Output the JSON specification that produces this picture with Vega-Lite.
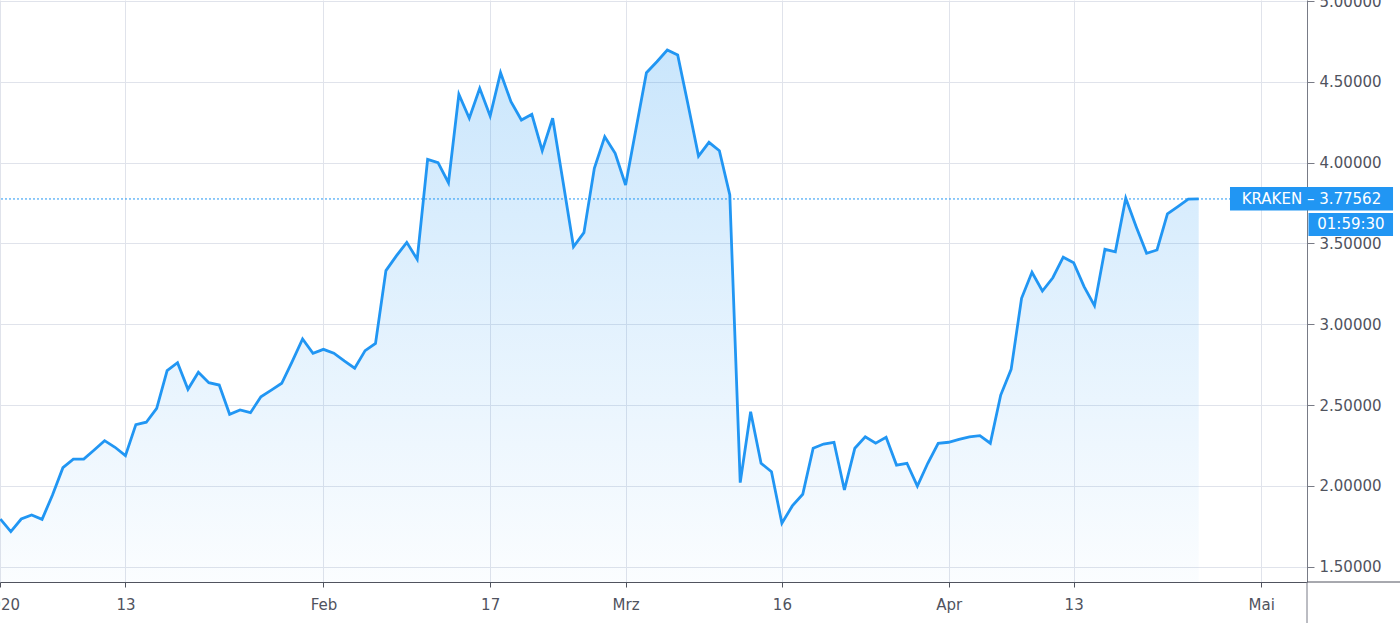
{
  "$schema": "https://vega.github.io/schema/vega-lite/v6.json",
  "width": 1307,
  "height": 582,
  "autosize": {"type": "none"},
  "padding": {"left": 0, "top": 0, "right": 93, "bottom": 41},
  "background": "#ffffff",
  "config": {
    "view": {"stroke": null},
    "font": "DejaVu Sans",
    "axis": {
      "labelFont": "DejaVu Sans",
      "labelFontSize": 15,
      "labelColor": "#50535e",
      "gridColor": "#e0e3eb",
      "gridWidth": 1,
      "domainColor": "#787b86",
      "tickColor": "#787b86",
      "title": null
    }
  },
  "datasets": {
    "price": [
      {"date": "2020-01-01", "value": 1.795}, {"date": "2020-01-02", "value": 1.717}, {"date": "2020-01-03", "value": 1.795}, {"date": "2020-01-04", "value": 1.820}, {"date": "2020-01-05", "value": 1.793}, {"date": "2020-01-06", "value": 1.944}, {"date": "2020-01-07", "value": 2.113}, {"date": "2020-01-08", "value": 2.166}, {"date": "2020-01-09", "value": 2.166}, {"date": "2020-01-10", "value": 2.222}, {"date": "2020-01-11", "value": 2.280}, {"date": "2020-01-12", "value": 2.239}, {"date": "2020-01-13", "value": 2.187}, {"date": "2020-01-14", "value": 2.379}, {"date": "2020-01-15", "value": 2.394}, {"date": "2020-01-16", "value": 2.480}, {"date": "2020-01-17", "value": 2.713}, {"date": "2020-01-18", "value": 2.762}, {"date": "2020-01-19", "value": 2.598}, {"date": "2020-01-20", "value": 2.703}, {"date": "2020-01-21", "value": 2.639}, {"date": "2020-01-22", "value": 2.624}, {"date": "2020-01-23", "value": 2.443}, {"date": "2020-01-24", "value": 2.470}, {"date": "2020-01-25", "value": 2.453}, {"date": "2020-01-26", "value": 2.552}, {"date": "2020-01-27", "value": 2.593}, {"date": "2020-01-28", "value": 2.635}, {"date": "2020-01-29", "value": 2.769}, {"date": "2020-01-30", "value": 2.909}, {"date": "2020-01-31", "value": 2.821},
      {"date": "2020-02-01", "value": 2.845}, {"date": "2020-02-02", "value": 2.821}, {"date": "2020-02-03", "value": 2.773}, {"date": "2020-02-04", "value": 2.728}, {"date": "2020-02-05", "value": 2.837}, {"date": "2020-02-06", "value": 2.882}, {"date": "2020-02-07", "value": 3.332}, {"date": "2020-02-08", "value": 3.423}, {"date": "2020-02-09", "value": 3.507}, {"date": "2020-02-10", "value": 3.402}, {"date": "2020-02-11", "value": 4.021}, {"date": "2020-02-12", "value": 4.000}, {"date": "2020-02-13", "value": 3.876}, {"date": "2020-02-14", "value": 4.423}, {"date": "2020-02-15", "value": 4.275}, {"date": "2020-02-16", "value": 4.460}, {"date": "2020-02-17", "value": 4.289}, {"date": "2020-02-18", "value": 4.557}, {"date": "2020-02-19", "value": 4.377}, {"date": "2020-02-20", "value": 4.264}, {"date": "2020-02-21", "value": 4.299}, {"date": "2020-02-22", "value": 4.074}, {"date": "2020-02-23", "value": 4.275}, {"date": "2020-02-24", "value": 3.880}, {"date": "2020-02-25", "value": 3.480}, {"date": "2020-02-26", "value": 3.567}, {"date": "2020-02-27", "value": 3.965}, {"date": "2020-02-28", "value": 4.161}, {"date": "2020-02-29", "value": 4.058},
      {"date": "2020-03-01", "value": 3.862}, {"date": "2020-03-02", "value": 4.210}, {"date": "2020-03-03", "value": 4.557}, {"date": "2020-03-04", "value": 4.625}, {"date": "2020-03-05", "value": 4.697}, {"date": "2020-03-06", "value": 4.666}, {"date": "2020-03-07", "value": 4.357}, {"date": "2020-03-08", "value": 4.041}, {"date": "2020-03-09", "value": 4.126}, {"date": "2020-03-10", "value": 4.074}, {"date": "2020-03-11", "value": 3.800}, {"date": "2020-03-12", "value": 2.020}, {"date": "2020-03-13", "value": 2.459}, {"date": "2020-03-14", "value": 2.140}, {"date": "2020-03-15", "value": 2.088}, {"date": "2020-03-16", "value": 1.769}, {"date": "2020-03-17", "value": 1.876}, {"date": "2020-03-18", "value": 1.948}, {"date": "2020-03-19", "value": 2.233}, {"date": "2020-03-20", "value": 2.259}, {"date": "2020-03-21", "value": 2.270}, {"date": "2020-03-22", "value": 1.975}, {"date": "2020-03-23", "value": 2.233}, {"date": "2020-03-24", "value": 2.304}, {"date": "2020-03-25", "value": 2.264}, {"date": "2020-03-26", "value": 2.301}, {"date": "2020-03-27", "value": 2.129}, {"date": "2020-03-28", "value": 2.140}, {"date": "2020-03-29", "value": 1.999}, {"date": "2020-03-30", "value": 2.140}, {"date": "2020-03-31", "value": 2.264},
      {"date": "2020-04-01", "value": 2.270}, {"date": "2020-04-02", "value": 2.288}, {"date": "2020-04-03", "value": 2.304}, {"date": "2020-04-04", "value": 2.311}, {"date": "2020-04-05", "value": 2.264}, {"date": "2020-04-06", "value": 2.562}, {"date": "2020-04-07", "value": 2.721}, {"date": "2020-04-08", "value": 3.161}, {"date": "2020-04-09", "value": 3.322}, {"date": "2020-04-10", "value": 3.206}, {"date": "2020-04-11", "value": 3.288}, {"date": "2020-04-12", "value": 3.415}, {"date": "2020-04-13", "value": 3.381}, {"date": "2020-04-14", "value": 3.233}, {"date": "2020-04-15", "value": 3.115}, {"date": "2020-04-16", "value": 3.464}, {"date": "2020-04-17", "value": 3.449}, {"date": "2020-04-18", "value": 3.780}, {"date": "2020-04-19", "value": 3.604}, {"date": "2020-04-20", "value": 3.439}, {"date": "2020-04-21", "value": 3.460}, {"date": "2020-04-22", "value": 3.683}, {"date": "2020-04-23", "value": 3.728}, {"date": "2020-04-24", "value": 3.774}, {"date": "2020-04-25", "value": 3.77562}
    ],
    "tags": [
      {"x": "2020-04-28T00:05:00Z", "x2": "2020-05-13T15:35:00Z", "y": 3.8496, "y2": 3.7042},
      {"x": "2020-05-05T12:50:00Z", "x2": "2020-05-13T15:35:00Z", "y": 3.6887, "y2": 3.5464}
    ],
    "tagText": [
      {"tx": "2020-05-05T19:41:00Z", "ty": 3.7769, "label": "KRAKEN – 3.77562"},
      {"tx": "2020-05-09T14:41:00Z", "ty": 3.6176, "label": "01:59:30"}
    ]
  },
  "layer": [
    {
      "data": {"name": "price"},
      "mark": {
        "type": "area",
        "color": {
          "gradient": "linear",
          "x1": 0, "y1": 1, "x2": 0, "y2": 0,
          "stops": [
            {"offset": 0, "color": "rgba(33,150,243,0.02)"},
            {"offset": 1, "color": "rgba(33,150,243,0.24)"}
          ]
        }
      },
      "encoding": {
        "x": {
          "field": "date", "type": "temporal",
          "scale": {"type": "utc", "nice": false, "domain": [
            {"year": 2019, "month": 12, "date": 31, "hours": 23, "minutes": 5, "utc": true},
            {"year": 2020, "month": 5, "date": 5, "hours": 9, "minutes": 27, "utc": true}
          ]},
          "axis": {
            "values": [
              {"year": 2020, "month": 1, "date": 1, "utc": true},
              {"year": 2020, "month": 1, "date": 13, "utc": true},
              {"year": 2020, "month": 2, "date": 1, "utc": true},
              {"year": 2020, "month": 2, "date": 17, "utc": true},
              {"year": 2020, "month": 3, "date": 1, "utc": true},
              {"year": 2020, "month": 3, "date": 16, "utc": true},
              {"year": 2020, "month": 4, "date": 1, "utc": true},
              {"year": 2020, "month": 4, "date": 13, "utc": true},
              {"year": 2020, "month": 5, "date": 1, "utc": true}
            ],
            "labelExpr": "utcdate(datum.value) == 1 ? (utcmonth(datum.value) == 0 ? '2020' : utcmonth(datum.value) == 1 ? 'Feb' : utcmonth(datum.value) == 2 ? 'Mrz' : utcmonth(datum.value) == 3 ? 'Apr' : 'Mai') : '' + utcdate(datum.value)",
            "grid": true,
            "tickSize": 5,
            "labelPadding": 10,
            "labelFlush": false,
            "labelOverlap": false,
            "domainColor": "#50535e",
            "tickColor": "#50535e"
          }
        },
        "y": {
          "field": "value", "type": "quantitative",
          "scale": {"domain": [1.4053, 5.0068], "zero": false, "nice": false},
          "axis": {
            "orient": "right",
            "values": [1.5, 2, 2.5, 3, 3.5, 4, 4.5, 5],
            "format": ".5f",
            "grid": true,
            "tickSize": 7,
            "labelPadding": 5,
            "labelBaseline": "middle"
          }
        },
        "y2": {"datum": 1.4053}
      }
    },
    {
      "data": {"name": "price"},
      "mark": {"type": "line", "color": "#2196f3", "strokeWidth": 2.8},
      "encoding": {
        "x": {"field": "date", "type": "temporal"},
        "y": {"field": "value", "type": "quantitative"}
      }
    },
    {
      "data": {"values": [{"level": 3.77562}]},
      "mark": {"type": "rule", "color": "#2196f3", "strokeWidth": 1, "strokeDash": [2, 2]},
      "encoding": {
        "y": {"field": "level", "type": "quantitative"}
      }
    },
    {
      "data": {"values": [{"a": "2020-05-05T09:27:00Z", "b": "2020-05-16T00:00:00Z", "v": 1.4053}]},
      "mark": {"type": "rule", "color": "#50535e", "strokeWidth": 1},
      "encoding": {
        "x": {"field": "a", "type": "temporal"},
        "x2": {"field": "b"},
        "y": {"field": "v", "type": "quantitative"}
      }
    },
    {
      "data": {"values": [{"a": "2020-05-05T09:27:00Z", "v": 1.4053, "w": 1.15}]},
      "mark": {"type": "rule", "color": "#787b86", "strokeWidth": 1},
      "encoding": {
        "x": {"field": "a", "type": "temporal"},
        "y": {"field": "v", "type": "quantitative"},
        "y2": {"field": "w"}
      }
    },
    {
      "data": {"name": "tags"},
      "mark": {"type": "rect", "color": "#2196f3", "opacity": 1},
      "encoding": {
        "x": {"field": "x", "type": "temporal"},
        "x2": {"field": "x2"},
        "y": {"field": "y", "type": "quantitative"},
        "y2": {"field": "y2"}
      }
    },
    {
      "data": {"name": "tagText"},
      "mark": {"type": "text", "color": "#ffffff", "font": "DejaVu Sans", "fontSize": 15, "align": "center", "baseline": "middle"},
      "encoding": {
        "x": {"field": "tx", "type": "temporal"},
        "y": {"field": "ty", "type": "quantitative"},
        "text": {"field": "label"}
      }
    }
  ]
}
